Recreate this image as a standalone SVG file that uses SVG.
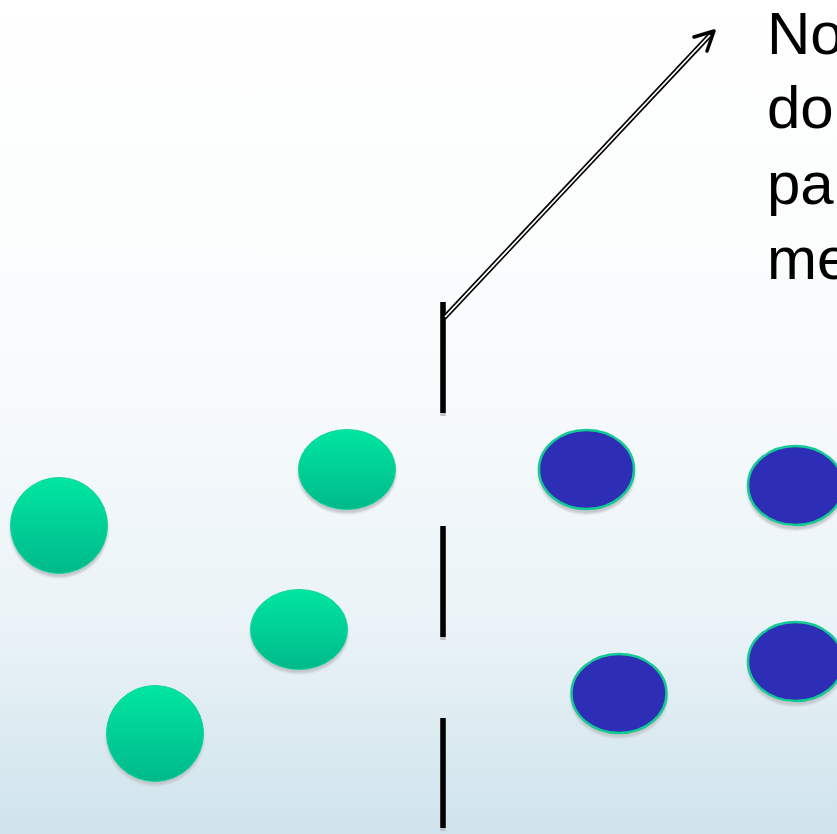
<svg xmlns="http://www.w3.org/2000/svg" width="837" height="834" viewBox="0 0 837 834">
  <defs>
    <linearGradient id="bg" x1="0" y1="0" x2="0" y2="1">
      <stop offset="0" stop-color="#ffffff"/>
      <stop offset="0.45" stop-color="#f8fbfc"/>
      <stop offset="0.75" stop-color="#eaf3f7"/>
      <stop offset="1" stop-color="#cfe3ec"/>
    </linearGradient>
    <linearGradient id="greenFill" x1="0" y1="0" x2="0" y2="1">
      <stop offset="0" stop-color="#00e6a2"/>
      <stop offset="1" stop-color="#00b98a"/>
    </linearGradient>
    <filter id="soft" x="-10%" y="-10%" width="120%" height="130%">
      <feGaussianBlur stdDeviation="1"/>
    </filter>
  </defs>
  <style>
    .shadow { fill: #c4c8cc; filter: url(#soft); }
    .green { fill: url(#greenFill); stroke: #10d49c; stroke-width: 1; }
    .blue { fill: #2e2db5; stroke: #14c994; stroke-width: 2.5; }
    .dash { stroke: #000000; stroke-width: 5.5; }
    .dashShadow { stroke: #c0c4c8; stroke-width: 5.5; }
    .label { font-family: "Liberation Sans", Arial, sans-serif; font-size: 60px; fill: #000000; }
  </style>

  <rect x="0" y="0" width="837" height="834" fill="url(#bg)"/>

  <!-- dashed partition -->
  <g id="partition">
    <line class="dashShadow" x1="443" y1="305" x2="443" y2="416"/>
    <line class="dash" x1="443" y1="302" x2="443" y2="413"/>
    <line class="dashShadow" x1="443" y1="529" x2="443" y2="640"/>
    <line class="dash" x1="443" y1="526" x2="443" y2="637"/>
    <line class="dashShadow" x1="443" y1="721" x2="443" y2="831"/>
    <line class="dash" x1="443" y1="718" x2="443" y2="828"/>
  </g>

  <!-- connectors -->
  <g id="connectors">
    <line x1="444" y1="318" x2="711" y2="34" stroke="#000000" stroke-width="5"/>
    <line x1="445" y1="317" x2="710" y2="35" stroke="#ffffff" stroke-width="1.8"/>
    <polyline points="694,37 714,31 707,51" fill="none" stroke="#000000" stroke-width="3.5" stroke-linecap="round" stroke-linejoin="round"/>
  </g>

  <!-- green particles -->
  <g id="green1">
    <ellipse class="shadow" cx="59" cy="529" rx="49" ry="48.5"/>
    <ellipse class="green" cx="59" cy="525.5" rx="48.5" ry="48"/>
  </g>
  <g id="green2">
    <ellipse class="shadow" cx="347" cy="473" rx="49" ry="40.5"/>
    <ellipse class="green" cx="347" cy="469.5" rx="48.5" ry="40"/>
  </g>
  <g id="green3">
    <ellipse class="shadow" cx="299" cy="633" rx="49" ry="40.5"/>
    <ellipse class="green" cx="299" cy="629.5" rx="48.5" ry="40"/>
  </g>
  <g id="green4">
    <ellipse class="shadow" cx="155" cy="737" rx="49" ry="48.5"/>
    <ellipse class="green" cx="155" cy="733.5" rx="48.5" ry="48"/>
  </g>

  <!-- blue particles -->
  <g id="blue1">
    <ellipse class="shadow" cx="586.5" cy="473.5" rx="48.5" ry="40.5"/>
    <ellipse class="blue" cx="586.5" cy="469.5" rx="47.5" ry="39.5"/>
  </g>
  <g id="blue2">
    <ellipse class="shadow" cx="795.5" cy="489.5" rx="48.5" ry="40.5"/>
    <ellipse class="blue" cx="795.5" cy="485.5" rx="47.5" ry="39.5"/>
  </g>
  <g id="blue3">
    <ellipse class="shadow" cx="619" cy="697.5" rx="48.5" ry="40.5"/>
    <ellipse class="blue" cx="619" cy="693.5" rx="47.5" ry="39.5"/>
  </g>
  <g id="blue4">
    <ellipse class="shadow" cx="795.5" cy="665.5" rx="48.5" ry="40.5"/>
    <ellipse class="blue" cx="795.5" cy="661.5" rx="47.5" ry="39.5"/>
  </g>

  <!-- annotation text, running past the right edge -->
  <g id="note">
    <text class="label" x="767" y="54">No</text>
    <text class="label" x="767" y="128">do</text>
    <text class="label" x="767" y="204">pa</text>
    <text class="label" x="767" y="279">me</text>
  </g>
</svg>
